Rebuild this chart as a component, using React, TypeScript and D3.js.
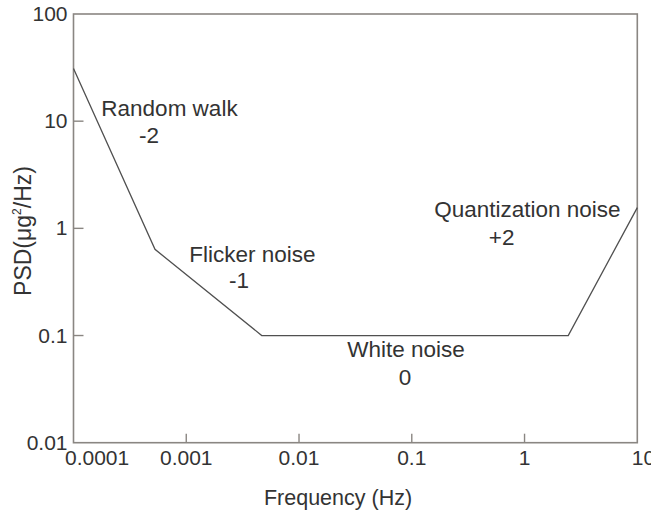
import React from "react";
import * as d3 from "d3";

const freq = [0.0001, 0.000528, 0.00467, 2.44, 10];
const psd = [31, 0.637, 0.1, 0.1, 1.56];
const xTicks = [0.0001, 0.001, 0.01, 0.1, 1, 10];
const xTickLabels = ["0.0001", "0.001", "0.01", "0.1", "1", "10"];
const yTicks = [0.01, 0.1, 1, 10, 100];
const yTickLabels = ["0.01", "0.1", "1", "10", "100"];
const annotNames = ["Random walk", "Flicker noise", "White noise", "Quantization noise"];
const annotSlopes = ["-2", "-1", "0", "+2"];
// label anchor positions in data space (freq, psd)
const annotFreq = [0.00071, 0.00386, 0.089, 1.06];
const annotPsd = [11.2, 0.488, 0.0627, 1.28];
const slopeFreq = [0.000468, 0.00294, 0.087, 0.627];
const slopePsd = [6.2, 0.275, 0.0345, 0.7];

const W = 651;
const H = 513;
const L = 73.5, R = 637.3, T = 14, B = 442.7;
const FONT = "'Liberation Sans', Arial, sans-serif";
const AXIS = "#8a8682";
const TEXT = "#333";

export default function App() {
  const x = d3.scaleLog().domain([0.0001, 10]).range([L, R]);
  const y = d3.scaleLog().domain([0.01, 100]).range([B, T]);
  const pts: [number, number][] = freq.map((f, i) => [f, psd[i]]);
  const line = d3
    .line<[number, number]>()
    .x((d) => x(d[0]))
    .y((d) => y(d[1]));

  return (
    <svg
      width={W}
      height={H}
      style={{ position: "absolute", left: 0, top: 0, background: "#fff" }}
      fontFamily={FONT}
    >
      {/* frame */}
      <rect x={L} y={T} width={R - L} height={B - T} fill="none" stroke={AXIS} strokeWidth={1.6} />
      {/* x ticks */}
      {xTicks.map((t, i) => {
        const inner = i > 0 && i < xTicks.length - 1;
        const anchor = i === 0 || i === xTicks.length - 1 ? "start" : "middle";
        const tx = i === 0 ? x(t) - 8.5 : i === xTicks.length - 1 ? x(t) - 5.5 : x(t);
        return (
          <g key={"x" + i}>
            {inner && <line x1={x(t)} x2={x(t)} y1={B} y2={B - 9} stroke={AXIS} strokeWidth={1.4} />}
            <text x={tx} y={B + 22} fontSize={21} fill={TEXT} textAnchor={anchor}>
              {xTickLabels[i]}
            </text>
          </g>
        );
      })}
      {/* y ticks */}
      {yTicks.map((t, i) => {
        const inner = i > 0 && i < yTicks.length - 1;
        return (
          <g key={"y" + i}>
            {inner && <line x1={L} x2={L + 10} y1={y(t)} y2={y(t)} stroke={AXIS} strokeWidth={1.4} />}
            <text x={L - 6} y={y(t) + 7} fontSize={21} fill={TEXT} textAnchor="end">
              {yTickLabels[i]}
            </text>
          </g>
        );
      })}
      {/* curve */}
      <path d={line(pts) || ""} fill="none" stroke="#505050" strokeWidth={1.3} />
      {/* annotations */}
      {annotNames.map((n, i) => (
        <g key={"a" + i}>
          <text x={x(annotFreq[i])} y={y(annotPsd[i])} fontSize={22.5} fill={TEXT} textAnchor="middle">
            {n}
          </text>
          <text x={x(slopeFreq[i])} y={y(slopePsd[i])} fontSize={22.5} fill={TEXT} textAnchor="middle">
            {annotSlopes[i]}
          </text>
        </g>
      ))}
      {/* axis titles */}
      <text x={338} y={505} fontSize={21.5} fill={TEXT} textAnchor="middle">
        Frequency (Hz)
      </text>
      <text transform="translate(31,231) rotate(-90)" fontSize={23} fill={TEXT} textAnchor="middle">
        PSD(μg<tspan fontSize={12} dy={-10}>2</tspan>
        <tspan dy={10}>/Hz)</tspan>
      </text>
    </svg>
  );
}
